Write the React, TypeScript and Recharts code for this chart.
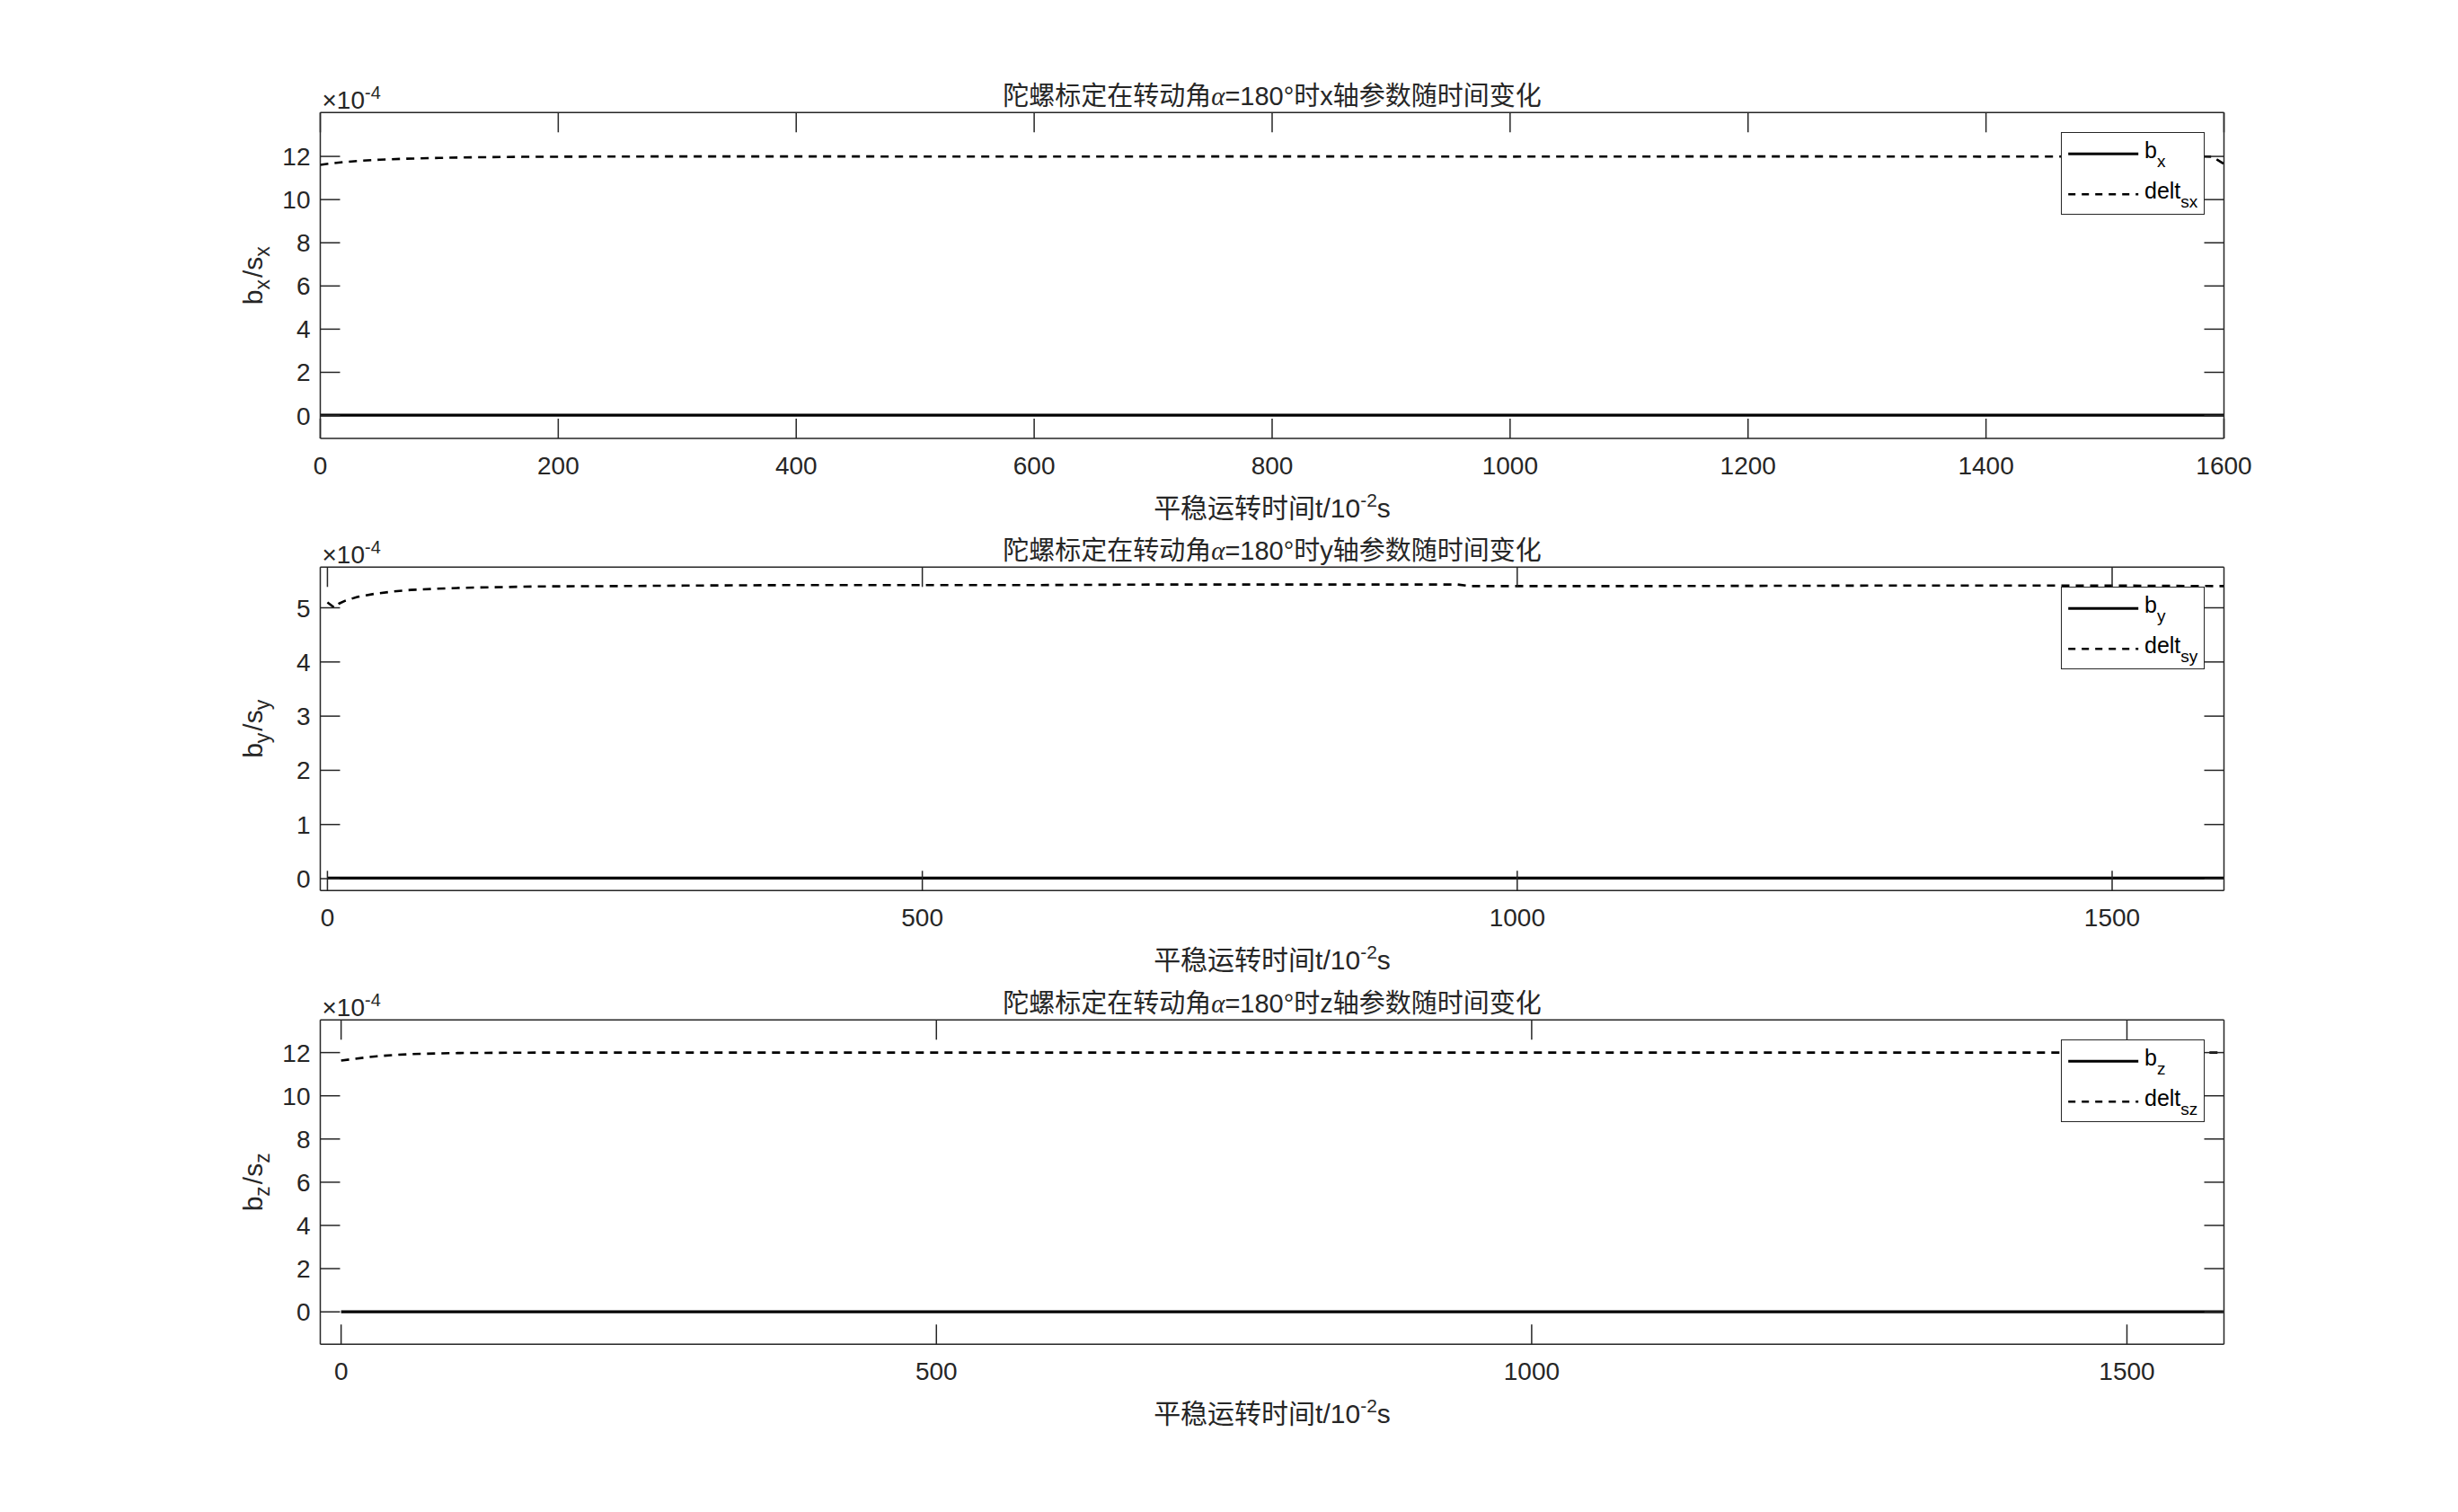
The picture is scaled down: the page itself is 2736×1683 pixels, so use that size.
import React from 'react';
import { LineChart, Line, XAxis, YAxis, Legend, Label } from 'recharts';

// ---------- data ----------
// subplot 1 : x axis parameters
const T_X = [0, 10, 20, 35, 50, 70, 100, 130, 170, 220, 300, 400, 600, 800, 1000, 1200, 1400, 1500, 1590, 1600];
const BX = [0.02, 0.02, 0.02, 0.02, 0.02, 0.02, 0.02, 0.02, 0.02, 0.02, 0.02, 0.02, 0.02, 0.02, 0.02, 0.02, 0.02, 0.02, 0.02, 0.02];
const DX = [11.61, 11.68, 11.74, 11.8, 11.85, 11.89, 11.93, 11.96, 11.98, 11.99, 12.0, 12.0, 11.99, 12.0, 11.99, 12.0, 11.99, 12.0, 11.99, 11.65];

// subplot 2 : y axis parameters
const T_Y = [0, 3, 6, 10, 15, 25, 40, 55, 70, 90, 115, 140, 180, 240, 300, 400, 500, 600, 700, 800, 900, 950, 960, 1100, 1300, 1500, 1594];
const BY = [0.01, 0.01, 0.01, 0.01, 0.01, 0.01, 0.01, 0.01, 0.01, 0.01, 0.01, 0.01, 0.01, 0.01, 0.01, 0.01, 0.01, 0.01, 0.01, 0.01, 0.01, 0.01, 0.01, 0.01, 0.01, 0.01, 0.01];
const DY = [5.1, 5.05, 5.0, 5.08, 5.13, 5.2, 5.26, 5.3, 5.33, 5.35, 5.37, 5.38, 5.395, 5.4, 5.41, 5.42, 5.42, 5.42, 5.43, 5.43, 5.43, 5.43, 5.4, 5.4, 5.41, 5.41, 5.4];

// subplot 3 : z axis parameters
const T_Z = [0, 10, 20, 30, 45, 60, 80, 100, 130, 170, 250, 400, 600, 800, 1000, 1200, 1400, 1581];
const BZ = [0.0, 0.0, 0.0, 0.0, 0.0, 0.0, 0.0, 0.0, 0.0, 0.0, 0.0, 0.0, 0.0, 0.0, 0.0, 0.0, 0.0, 0.0];
const DZ = [11.63, 11.7, 11.77, 11.83, 11.89, 11.93, 11.96, 11.98, 11.99, 12.0, 12.0, 12.0, 12.0, 12.0, 12.0, 12.0, 12.0, 12.0];

// ticks & domains
const X_TICKS_1 = [0, 200, 400, 600, 800, 1000, 1200, 1400, 1600];
const X_TICKS_2 = [0, 500, 1000, 1500];
const X_TICKS_3 = [0, 500, 1000, 1500];
const Y_TICKS_1 = [0, 2, 4, 6, 8, 10, 12];
const Y_TICKS_2 = [0, 1, 2, 3, 4, 5];
const Y_TICKS_3 = [0, 2, 4, 6, 8, 10, 12];
const X_DOMAIN_1 = [0, 1600];
const X_DOMAIN_2 = [-6, 1594];
const X_DOMAIN_3 = [-17.5, 1581.5];
const Y_DOMAIN_1 = [-1.06, 14.03];
const Y_DOMAIN_2 = [-0.22, 5.75];
const Y_DOMAIN_3 = [-1.5, 13.51];

const AXIS_NAMES = ['x', 'y', 'z'];
const B_NAMES = ['b_x', 'b_y', 'b_z'];
const D_NAMES = ['delt_sx', 'delt_sy', 'delt_sz'];

// ---------- styling / layout ----------
const FONT = "'Liberation Sans', Arial, 'Noto Sans CJK SC', sans-serif";
const INK = '#262626';
const W = 2736;
const PLOT_LEFT = 356.5;
const PLOT_RIGHT = 2475.5;
const AXW = 60; // y axis width
const AXH = 30; // x axis height
const TICK_FS = 28;
const LABEL_FS = 30;
const TITLE_FS = 29;

const LAYOUT = [
  { divTop: 0, divH: 590, plotTop: 125.3, plotBottom: 488 },
  { divTop: 590, divH: 510, plotTop: 631.3, plotBottom: 991.3 },
  { divTop: 1100, divH: 583, plotTop: 1135.3, plotBottom: 1496.3 },
];

function buildData(ts: number[], bs: number[], ds: number[]) {
  return ts.map((t, i) => ({ t, b: bs[i], d: ds[i] }));
}

const DATASETS = [buildData(T_X, BX, DX), buildData(T_Y, BY, DY), buildData(T_Z, BZ, DZ)];
const X_TICKS = [X_TICKS_1, X_TICKS_2, X_TICKS_3];
const Y_TICKS = [Y_TICKS_1, Y_TICKS_2, Y_TICKS_3];
const X_DOMAINS = [X_DOMAIN_1, X_DOMAIN_2, X_DOMAIN_3];
const Y_DOMAINS = [Y_DOMAIN_1, Y_DOMAIN_2, Y_DOMAIN_3];

const XTick = (props: any) => {
  const { x, y, payload } = props;
  return (
    <text x={x} y={y} textAnchor="middle" fontSize={TICK_FS} fontFamily={FONT} fill={INK}>
      {payload.value}
    </text>
  );
};

const YTick = (props: any) => {
  const { x, y, payload } = props;
  return (
    <text x={x} y={y + 10} textAnchor="end" fontSize={TICK_FS} fontFamily={FONT} fill={INK}>
      {payload.value}
    </text>
  );
};

const NoTick = () => <g />;

function LegendBox(props: any) {
  const items = props.payload || [];
  return (
    <div
      style={{
        width: 160,
        height: 92,
        boxSizing: 'border-box',
        border: `1.5px solid ${INK}`,
        background: '#fff',
      }}
    >
      <svg width={157} height={89} style={{ display: 'block' }}>
        {items.map((it: any, i: number) => {
          const [main, sub] = String(it.value).split('_');
          const ly = 23.2 + i * 45;
          const dashed = main === 'delt';
          return (
            <g key={i}>
              <line
                x1={7.2}
                x2={85.2}
                y1={ly}
                y2={ly}
                stroke="#000"
                strokeWidth={dashed ? 2.4 : 3}
                strokeDasharray={dashed ? '8 7' : undefined}
              />
              <text x={92} y={ly + 5} fontSize={25} fontFamily={FONT} fill="#000">
                {main}
                <tspan dy={10} fontSize={19}>
                  {sub}
                </tspan>
              </text>
            </g>
          );
        })}
      </svg>
    </div>
  );
}

function SubPlot({ idx }: { idx: number }) {
  const L = LAYOUT[idx];
  const ax = AXIS_NAMES[idx];
  const margin = {
    top: L.plotTop - L.divTop - AXH,
    bottom: L.divTop + L.divH - L.plotBottom - AXH,
    left: PLOT_LEFT - AXW,
    right: W - PLOT_RIGHT - AXW,
  };
  const axisStyle = { stroke: INK, strokeWidth: 1.5 };

  const titleContent = (p: any) => {
    const vb = p.viewBox || {};
    const cx = vb.x + vb.width / 2;
    const by = vb.y + vb.height - 8;
    return (
      <text x={cx} y={by} textAnchor="middle" fontSize={TITLE_FS} fontFamily={FONT} fill={INK}>
        陀螺标定在转动角
        <tspan fontFamily="'Liberation Serif', serif" fontStyle="italic">α</tspan>
        {`=180°时${ax}轴参数随时间变化`}
      </text>
    );
  };

  const xLabelContent = (p: any) => {
    const vb = p.viewBox || {};
    const cx = vb.x + vb.width / 2;
    const by = vb.y + 88;
    return (
      <text x={cx} y={by} textAnchor="middle" fontSize={LABEL_FS} fontFamily={FONT} fill={INK}>
        平稳运转时间t/10
        <tspan dy={-12} fontSize={21}>
          -2
        </tspan>
        <tspan dy={12}>s</tspan>
      </text>
    );
  };

  const yLabelContent = (p: any) => {
    const vb = p.viewBox || {};
    const cx = vb.x + vb.width - 64.5;
    const cy = vb.y + vb.height / 2;
    return (
      <text
        transform={`translate(${cx},${cy}) rotate(-90)`}
        x={0}
        y={0}
        textAnchor="middle"
        fontSize={LABEL_FS}
        fontFamily={FONT}
        fill={INK}
      >
        b
        <tspan dy={8} fontSize={23}>
          {ax}
        </tspan>
        <tspan dy={-8} dx={2}>
          /s
        </tspan>
        <tspan dy={8} fontSize={23}>
          {ax}
        </tspan>
      </text>
    );
  };

  const expContent = (p: any) => {
    const vb = p.viewBox || {};
    const x0 = vb.x + vb.width + 2;
    const by = vb.y - 4;
    return (
      <text x={x0} y={by} textAnchor="start" fontSize={TICK_FS} fontFamily={FONT} fill={INK}>
        ×10
        <tspan dy={-11} fontSize={20}>
          -4
        </tspan>
      </text>
    );
  };

  return (
    <div style={{ position: 'absolute', left: 0, top: L.divTop, width: W, height: L.divH }}>
      <LineChart width={W} height={L.divH} data={DATASETS[idx]} margin={margin}>
        <XAxis
          xAxisId="b"
          dataKey="t"
          type="number"
          orientation="bottom"
          domain={X_DOMAINS[idx]}
          allowDataOverflow
          ticks={X_TICKS[idx]}
          interval={0}
          height={AXH}
          tickSize={-22}
          tickMargin={62}
          axisLine={axisStyle}
          tickLine={axisStyle}
          tick={<XTick />}
        >
          <Label content={xLabelContent} />
        </XAxis>
        <XAxis
          xAxisId="t"
          dataKey="t"
          type="number"
          orientation="top"
          domain={X_DOMAINS[idx]}
          allowDataOverflow
          ticks={X_TICKS[idx]}
          interval={0}
          height={AXH}
          tickSize={-22}
          tickMargin={0}
          axisLine={axisStyle}
          tickLine={axisStyle}
          tick={<NoTick />}
        >
          <Label content={titleContent} />
        </XAxis>
        <YAxis
          yAxisId="l"
          type="number"
          orientation="left"
          domain={Y_DOMAINS[idx]}
          allowDataOverflow
          ticks={Y_TICKS[idx]}
          interval={0}
          width={AXW}
          tickSize={-22}
          tickMargin={33}
          axisLine={axisStyle}
          tickLine={axisStyle}
          tick={<YTick />}
        >
          <Label content={yLabelContent} />
          <Label content={expContent} />
        </YAxis>
        <YAxis
          yAxisId="r"
          type="number"
          orientation="right"
          domain={Y_DOMAINS[idx]}
          allowDataOverflow
          ticks={Y_TICKS[idx]}
          interval={0}
          width={AXW}
          tickSize={-22}
          tickMargin={0}
          axisLine={axisStyle}
          tickLine={axisStyle}
          tick={<NoTick />}
        />
        <Line
          xAxisId="b"
          yAxisId="l"
          dataKey="b"
          name={B_NAMES[idx]}
          type="linear"
          stroke="#000"
          strokeWidth={3.3}
          dot={false}
          activeDot={false}
          isAnimationActive={false}
        />
        <Line
          xAxisId="b"
          yAxisId="l"
          dataKey="d"
          name={D_NAMES[idx]}
          type="linear"
          stroke="#000"
          strokeWidth={2.6}
          strokeDasharray="9 7"
          dot={false}
          activeDot={false}
          isAnimationActive={false}
        />
        <Legend
          layout="horizontal"
          align="center"
          verticalAlign="middle"
          content={<LegendBox />}
          wrapperStyle={{
            left: 2294.3,
            top: L.plotTop - L.divTop + 21.5,
            right: 'auto',
            bottom: 'auto',
            width: 160,
            height: 92,
            margin: 0,
            padding: 0,
          }}
        />
      </LineChart>
    </div>
  );
}

export default function App() {
  return (
    <div style={{ position: 'absolute', left: 0, top: 0, width: W, height: 1683, background: '#fff' }}>
      <SubPlot idx={0} />
      <SubPlot idx={1} />
      <SubPlot idx={2} />
    </div>
  );
}
